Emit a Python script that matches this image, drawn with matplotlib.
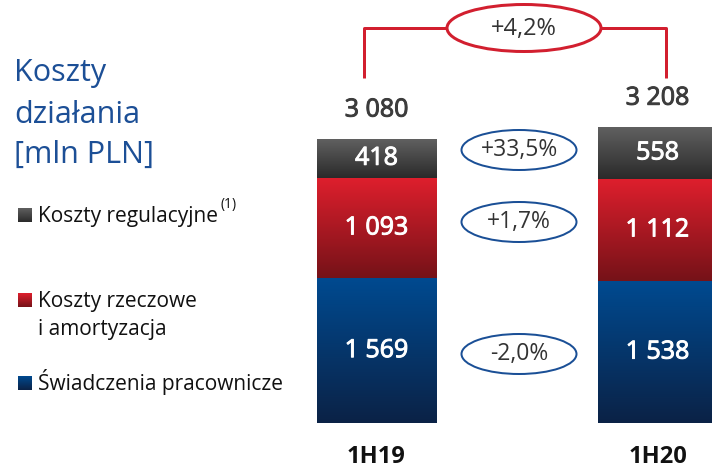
import numpy as np
import matplotlib.pyplot as plt
import matplotlib.patheffects as pe
from matplotlib.colors import LinearSegmentedColormap
from matplotlib.patches import Ellipse

# data (mln PLN)
periods = ['1H19', '1H20']
swiadczenia = [1569, 1538]
rzeczowe = [1093, 1112]
regulacyjne = [418, 558]
legend_labels = ['Koszty regulacyjne', 'Koszty rzeczowe\ni amortyzacja', 'Świadczenia pracownicze']

FONT = 'Open Sans'
PT = 72 / 100  # points per pixel at dpi 100

# gradient colours (top, bottom) per segment
grad_blue = ('#004a90', '#0b2246')
grad_red = ('#df1f2d', '#751218')
grad_gray = ('#606060', '#2a2a2a')


def fmt_num(v):
    return f"{v:,}".replace(",", " ")


def fmt_pct(new, old):
    return f"{(new / old - 1) * 100:+.1f}%".replace('.', ',')


def semibold(color, w=0.7):
    # thicken regular glyphs a bit
    return [pe.withStroke(linewidth=w, foreground=color)]


def gradient(ax, extent, colors):
    cmap = LinearSegmentedColormap.from_list('g', list(colors))
    grad = np.linspace(0, 1, 256).reshape(-1, 1)
    ax.imshow(grad, cmap=cmap, extent=extent, aspect='auto', origin='upper',
              interpolation='bicubic', zorder=2)


fig = plt.figure(figsize=(7.12, 4.72), dpi=100)
fig.patch.set_facecolor('white')

# bar axes: bottom of bars at 423 px from top
ax = fig.add_axes([0, 1 - 423 / 472, 1, 423 / 472])
x = np.arange(len(periods))
width = 0.4235

bottom = np.zeros(len(periods))
for vals, cols in [(swiadczenia, grad_blue), (rzeczowe, grad_red), (regulacyjne, grad_gray)]:
    bars = ax.bar(x, vals, width, bottom=bottom, color='none', edgecolor='none')
    for b, v in zip(bars, vals):
        x0, y0, w, h = b.get_x(), b.get_y(), b.get_width(), b.get_height()
        gradient(ax, (x0, x0 + w, y0, y0 + h), cols)
        ax.text(x0 + w / 2, y0 + h / 2, fmt_num(v), ha='center', va='center',
                color='white', fontsize=18, family=FONT, zorder=3,
                path_effects=semibold('white'))
    bottom += np.array(vals)

totals = bottom
for i, t in enumerate(totals):
    ax.annotate(fmt_num(int(t)), xy=(x[i], t), xytext=(0, 29 * PT), textcoords='offset points',
                ha='center', va='center', fontsize=18, color='#3c3c3c', family=FONT,
                path_effects=semibold('#3c3c3c'))
    ax.annotate(periods[i], xy=(x[i], 0), xytext=(0, -34 * PT), textcoords='offset points',
                ha='center', va='center', fontsize=17, fontweight='bold', color='#111111',
                family=FONT, annotation_clip=False)

ax.set_xlim(-376.5 / 281, (712 - 376.5) / 281)
ax.set_ylim(0, 423 / 0.0922)
ax.axis('off')

# decoration overlay in pixel coordinates
deco = fig.add_axes([0, 0, 1, 1])
deco.set_xlim(0, 712)
deco.set_ylim(472, 0)
deco.axis('off')
deco.patch.set_alpha(0)

# title
title_blue = '#1c4f96'
for line, yb in zip(['Koszty', 'działania', '[mln PLN]'], [81, 123, 163]):
    deco.text(14, yb, line, fontsize=22, color=title_blue, family=FONT, va='baseline')

# legend
leg_items = [(legend_labels[0], grad_gray, 222),
             (legend_labels[1], grad_red, 307),
             (legend_labels[2], grad_blue, 390)]
leg_texts = []
for lab, cols, yb in leg_items:
    gradient(deco, (18, 32, yb, yb - 14), cols)
    for k, part in enumerate(lab.split('\n')):
        t = deco.text(38, yb + 28 * k, part, fontsize=15, color='#111111', family=FONT,
                      va='baseline')
        if k == 0:
            leg_texts.append(t)
deco.annotate('(1)', xy=(1, 1), xycoords=leg_texts[0], xytext=(2, 1),
              textcoords='offset points', fontsize=10, color='#111111', family=FONT,
              va='center', ha='left')

# total change bracket
red = '#d21f2f'
deco.plot([364, 364, 447], [78, 28, 28], color=red, lw=3 * PT, solid_capstyle='butt')
deco.plot([601, 666, 666], [28, 28, 78], color=red, lw=3 * PT, solid_capstyle='butt')
deco.add_patch(Ellipse((524, 28), 154, 47, facecolor='white', edgecolor=red, lw=3 * PT))
deco.text(524, 29, fmt_pct(totals[1], totals[0]), ha='center', va='center',
          fontsize=17, color='#333333', family=FONT)

# segment change ellipses
changes = [(regulacyjne, 150), (rzeczowe, 222), (swiadczenia, 354)]
for vals, yc in changes:
    deco.add_patch(Ellipse((519, yc), 115, 40, facecolor='white', edgecolor='#1a4f96', lw=2 * PT))
    deco.text(519, yc, fmt_pct(vals[1], vals[0]), ha='center', va='center',
              fontsize=16.5, color='#333333', family=FONT)

fig.savefig('out.png', dpi=100)
